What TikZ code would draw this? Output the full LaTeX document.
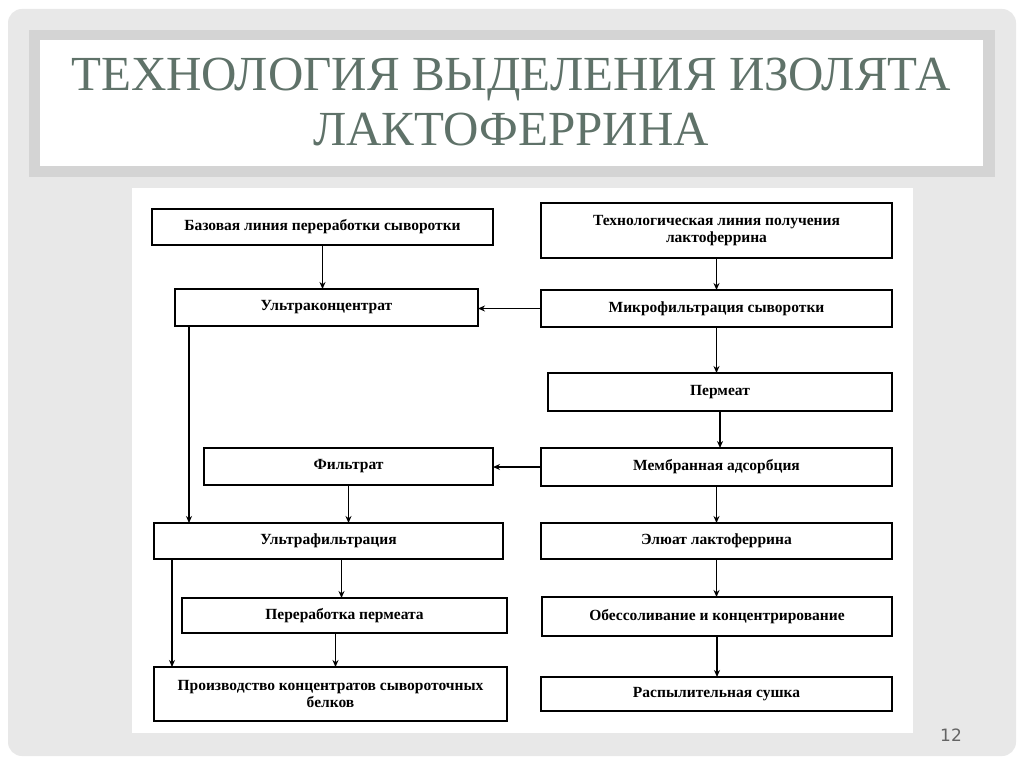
\documentclass[tikz,border=0pt]{standalone}
\usepackage{fontspec}
\setmainfont{Liberation Serif}
\newfontfamily\numfont{DejaVu Sans}
\usetikzlibrary{arrows.meta,calc}
\definecolor{pagegrey}{RGB}{232,232,232}
\definecolor{titleframe}{RGB}{212,212,212}
\definecolor{titlecol}{RGB}{95,114,105}
\definecolor{numcol}{RGB}{100,100,100}
\tikzset{
  box/.style={draw=black, line width=1.7pt, fill=white, inner sep=2pt, outer sep=0pt,
    align=center, font=\fontsize{15.5}{17}\selectfont\bfseries},
  arr/.style={line width=1.5pt, -{Stealth[length=7pt,width=6pt]}},
}
\begin{document}
\begin{tikzpicture}[x=1pt,y=-1pt]
\useasboundingbox (0,0) rectangle (1024,767);
\fill[white] (0,0) rectangle (1024,767);
% slide background
\fill[pagegrey, rounded corners=14pt] (8,9) rectangle (1016,756);
% title frame
\fill[titleframe] (29,30) rectangle (995,177);
\fill[white] (40,40) rectangle (983,166);
\node[font=\fontsize{49}{55}\selectfont, text=titlecol, align=center] (title) at (511,102)
  {ТЕХНОЛОГИЯ ВЫДЕЛЕНИЯ ИЗОЛЯТА\\ЛАКТОФЕРРИНА};
% diagram panel
\fill[white] (132,188) rectangle (913,733);
% boxes
\node[box, minimum width=341pt, minimum height=36pt] (b1) at (322.5,227) {Базовая линия переработки сыворотки};
\node[box, minimum width=303pt, minimum height=37pt] (b2) at (326.5,307.5) {Ультраконцентрат};
\node[box, minimum width=351pt, minimum height=55pt] (b3) at (716.5,230.5) {Технологическая линия получения\\лактоферрина};
\node[box, minimum width=351pt, minimum height=37pt] (b4) at (716.5,308.5) {Микрофильтрация сыворотки};
\node[box, minimum width=344pt, minimum height=38pt] (b5) at (720,392) {Пермеат};
\node[box, minimum width=351pt, minimum height=38pt] (b6) at (716.5,467) {Мембранная адсорбция};
\node[box, minimum width=289pt, minimum height=37pt] (b7) at (348.5,466.5) {Фильтрат};
\node[box, minimum width=349pt, minimum height=36pt] (b8) at (328.5,541) {Ультрафильтрация};
\node[box, minimum width=351pt, minimum height=36pt] (b9) at (716.5,541) {Элюат лактоферрина};
\node[box, minimum width=325pt, minimum height=35pt] (b10) at (344.5,615.5) {Переработка пермеата};
\node[box, minimum width=350pt, minimum height=39pt] (b11) at (717,616.5) {Обессоливание и концентрирование};
\node[box, minimum width=353pt, minimum height=54pt] (b12) at (330.5,694) {Производство концентратов сывороточных\\белков};
\node[box, minimum width=351pt, minimum height=34pt] (b13) at (716.5,694) {Распылительная сушка};
% connectors
\draw[arr] (b1.south) -- (b1.south |- b2.north);
\draw[arr] (b3.south) -- (b3.south |- b4.north);
\draw[arr] (b4.west) -- (b2.east |- b4.west);
\draw[arr] (b4.south) -- (b4.south |- b5.north);
\draw[arr] (b5.south) -- (b5.south |- b6.north);
\draw[arr] (b6.west) -- (b7.east |- b6.west);
\draw[arr] (b6.south) -- (b6.south |- b9.north);
\draw[arr] (b9.south) -- (b9.south |- b11.north);
\draw[arr] (b11.south) -- (b11.south |- b13.north);
\draw[arr] ([xshift=14pt]b2.south west) -- ([xshift=14pt]b2.south west |- b8.north);
\draw[arr] (b7.south) -- (b7.south |- b8.north);
\draw[arr] ([xshift=-3pt]b10.north |- b8.south) -- ([xshift=-3pt]b10.north);
\draw[arr] ([xshift=18pt]b8.south west) -- ([xshift=18pt]b8.south west |- b12.north);
\draw[arr] ([xshift=-9pt]b10.south) -- ([xshift=-9pt]b10.south |- b12.north);
% page number
\node[font=\numfont\fontsize{17}{20}\selectfont, text=numcol] (pnum) at (951,735) {12};
\end{tikzpicture}
\end{document}
